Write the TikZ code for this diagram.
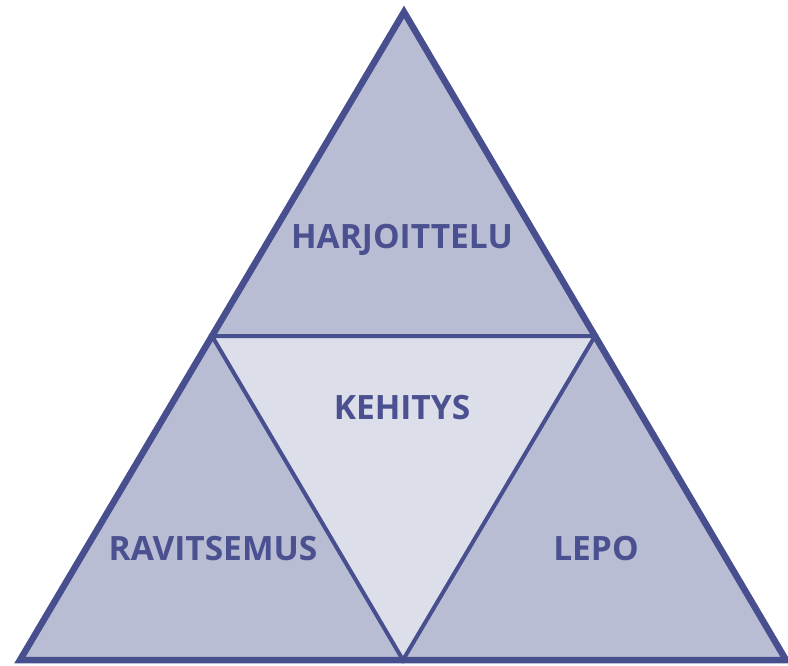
\documentclass[tikz,border=0pt]{standalone}
\usepackage{fontspec}
\setmainfont{Open Sans}
\definecolor{edge}{HTML}{474F8F}
\definecolor{outerfill}{HTML}{B8BDD3}
\definecolor{innerfill}{HTML}{DCDEEA}
\definecolor{txt}{HTML}{4A5090}
\begin{document}
\begin{tikzpicture}[x=1pt,y=-1pt,
  lbl/.style={text=txt,font=\fontsize{33.5}{33.5}\selectfont\bfseries,inner sep=0pt},
  innerline/.style={draw=edge,line width=4pt,line join=miter},
  outerline/.style={draw=edge,line width=6.5pt,line join=miter}]
\useasboundingbox (0,0) rectangle (788,666);
\coordinate (A) at (404,12);
\coordinate (B) at (20,660);
\coordinate (C) at (786,660);
\coordinate (AB) at (212,336);
\coordinate (AC) at (595,336);
\coordinate (BC) at (403,660);
\fill[outerfill] (A) -- (B) -- (C) -- cycle;
\fill[innerfill] (AB) -- (AC) -- (BC) -- cycle;
\draw[innerline] (AB) -- (AC) -- (BC) -- cycle;
\draw[outerline] (A) -- (B) -- (C) -- cycle;
\node[lbl] (h) at (402,240) {HARJOITTELU};
\node[lbl] (k) at (402,408) {KEHITYS};
\node[lbl] (r) at (213,549) {RAVITSEMUS};
\node[lbl] (l) at (596,549) {LEPO};
\end{tikzpicture}
\end{document}
